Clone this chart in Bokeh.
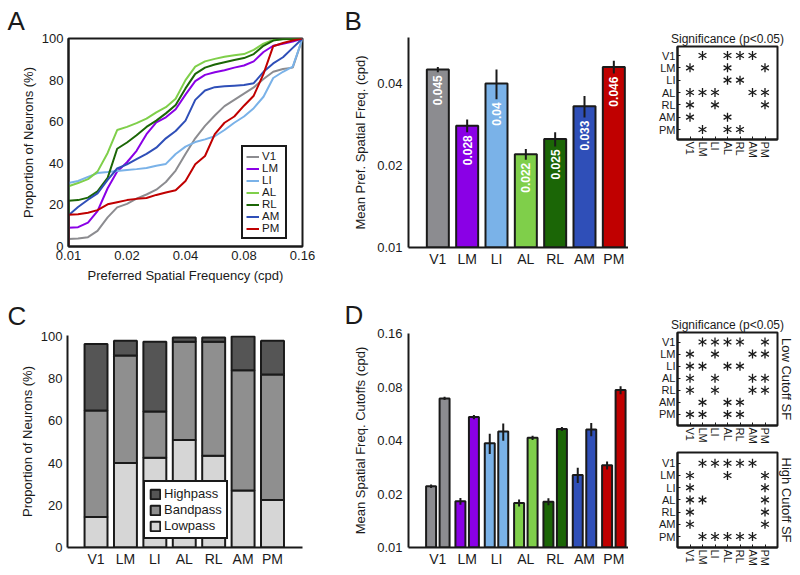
import math
from bokeh.plotting import figure
from bokeh.layouts import row, column
from bokeh.models import (Range1d, FixedTicker, PrintfTickFormatter, Legend,
                          LegendItem, Title, ColumnDataSource)
from bokeh.core.properties import value
from bokeh.embed import file_html
from bokeh.resources import INLINE

FONT = "Liberation Sans"
INK = "#1a1a1a"

AREAS = ["V1", "LM", "LI", "AL", "RL", "AM", "PM"]
AREA_COLORS = ["#8c8c90", "#8a00e6", "#7ab2e8", "#7fcf4a", "#1b6606", "#2f4fb8", "#c00000"]
AREA_POS = [1, 2, 3, 4, 5, 6, 7]

# ---------------- Panel A: cumulative distributions ----------------
SF_CPD = [0.0100, 0.0112, 0.0126, 0.0141, 0.0159, 0.0178, 0.0200, 0.0224, 0.0252,
          0.0283, 0.0317, 0.0356, 0.0400, 0.0449, 0.0504, 0.0566, 0.0635, 0.0713,
          0.0800, 0.0898, 0.1008, 0.1131, 0.1270, 0.1425, 0.1600]
CDF_V1 = [3.6, 3.8, 4.5, 7.5, 14, 18.8, 20.5, 23, 25, 27.3, 31, 36.5, 44.5, 52, 58, 63,
          67.5, 70.5, 73.5, 76.5, 80.5, 84, 85.3, 86, 100]
CDF_LM = [9, 9.3, 11.5, 17, 28, 36, 40.5, 46, 54, 59.7, 62.1, 66, 73, 79.5, 82.5, 83.8,
          84.7, 86, 87, 89, 93.5, 96.5, 97.5, 98.5, 100]
CDF_LI = [30.5, 31.5, 33.5, 35.3, 35.8, 36.3, 36.8, 37.2, 37.7, 38.8, 39.7, 44.5, 48,
          50.2, 51.5, 53, 56, 59.5, 62.5, 66.5, 72, 81, 84, 86.5, 100]
CDF_AL = [29, 30.5, 32.4, 36, 45, 56, 57.5, 59.3, 61.5, 64.5, 67, 71, 80, 86.5, 89, 90.2,
          91.2, 91.9, 92.5, 94.5, 97.5, 99.3, 99.6, 99.8, 100]
CDF_RL = [22, 22.3, 23.5, 26.5, 33, 47, 50, 53.5, 57.5, 60.5, 64, 68, 76, 83, 86, 87.5,
          88.6, 89.7, 90.6, 92.5, 96.5, 99, 99.7, 99.8, 100]
CDF_AM = [15, 19, 22.5, 25.5, 32, 37.5, 39.5, 42, 44.5, 47.5, 52, 55.5, 60.5, 70.5, 75,
          76.6, 77, 77.3, 77.6, 78.5, 84, 88, 91, 95.5, 100]
CDF_PM = [15.3, 15.5, 16.2, 17.5, 20.3, 21.3, 22.3, 22.9, 23.3, 24.8, 26, 27, 31.5, 39.5,
          43.5, 54, 59.5, 62.5, 67.7, 72.5, 83, 96.3, 97.8, 99, 100]
A_XTICKS = [0.01, 0.02, 0.04, 0.08, 0.16]
A_YTICKS = [0, 20, 40, 60, 80, 100]

# ---------------- Panel B: mean preferred SF ----------------
B_MEAN = [0.045, 0.028, 0.040, 0.022, 0.025, 0.033, 0.046]
B_SEM = [0.001, 0.0015, 0.005, 0.001, 0.0015, 0.003, 0.0025]
B_YTICKS = [0.01, 0.02, 0.04]
SIG_B = ["0101110",
         "1001001",
         "0001100",
         "1110011",
         "1010001",
         "1001000",
         "0101100"]

# ---------------- Panel C: filter classes ----------------
C_CLASSES = ["Lowpass", "Bandpass", "Highpass"]
C_LOWPASS = [14.5, 40, 42.5, 51, 43.5, 27, 22.5]
C_BANDPASS = [50.5, 51, 22, 46.5, 54, 57, 59.5]
C_HIGHPASS = [31.5, 7, 33, 2, 2, 16, 16]
C_COLORS = ["#d6d6d6", "#8f8f8f", "#555555"]
C_YTICKS = [0, 20, 40, 60, 80, 100]

# ---------------- Panel D: cutoffs ----------------
D_LOW = [0.0221, 0.0182, 0.0386, 0.0178, 0.0181, 0.0256, 0.029]
D_LOW_SEM = [0.0005, 0.0008, 0.005, 0.0008, 0.0008, 0.0025, 0.0015]
D_HIGH = [0.069, 0.0542, 0.0449, 0.0414, 0.0464, 0.0462, 0.0769]
D_HIGH_SEM = [0.0015, 0.0015, 0.005, 0.0012, 0.0012, 0.004, 0.004]
D_YTICKS = [0.01, 0.02, 0.04, 0.08, 0.16]
SIG_D_LOW = ["0111101",
             "1010011",
             "1101100",
             "1010011",
             "1010011",
             "0101100",
             "1101100"]
SIG_D_HIGH = ["0111110",
              "1001001",
              "1000001",
              "1100001",
              "1000001",
              "1000001",
              "0111110"]


def base_fig(w, h, l, r, t, b, **kw):
    p = figure(width=w, height=h, min_border_left=l, min_border_right=r,
               min_border_top=t, min_border_bottom=b, output_backend="svg",
               toolbar_location=None, **kw)
    p.background_fill_color = "white"
    p.border_fill_color = "white"
    p.outline_line_color = None
    p.grid.visible = False
    return p


def style_axes(p, xsize="13px", ysize="13px"):
    for ax, size in [(a, xsize) for a in p.xaxis] + [(a, ysize) for a in p.yaxis]:
        ax.axis_line_width = 2
        ax.axis_line_color = INK
        ax.major_tick_line_color = None
        ax.minor_tick_line_color = None
        ax.major_tick_out = 0
        ax.major_tick_in = 0
        ax.minor_tick_out = 0
        ax.minor_tick_in = 0
        ax.major_label_text_font = FONT
        ax.major_label_text_font_size = size
        ax.major_label_text_color = INK
        ax.major_label_standoff = 5
        ax.axis_label_text_font = FONT
        ax.axis_label_text_font_style = "normal"
        ax.axis_label_text_font_size = "13px"
        ax.axis_label_text_color = INK


def letter(p, txt, offset, standoff):
    p.title.text = txt
    p.title.align = "left"
    p.title.offset = offset
    p.title.standoff = standoff
    p.title.text_font = FONT
    p.title.text_font_style = "normal"
    p.title.text_font_size = "26px"
    p.title.text_color = INK


def area_axis(ax):
    ax.ticker = FixedTicker(ticks=AREA_POS)
    ax.major_label_overrides = {pos: a for pos, a in zip(AREA_POS, AREAS)}


# ---------- A ----------
pA = base_fig(330, 285, 68, 28, 38, 38, x_axis_type="log",
              x_range=Range1d(0.01, 0.16), y_range=Range1d(0, 100))
pA.outline_line_color = INK
pA.outline_line_width = 2
cdfs = [CDF_V1, CDF_LM, CDF_LI, CDF_AL, CDF_RL, CDF_AM, CDF_PM]
rendsA = []
for cdf, col in zip(cdfs, AREA_COLORS):
    r = pA.line([SF_CPD[0]] + SF_CPD, [0] + cdf, line_color=col, line_width=2)
    rendsA.append(r)
style_axes(pA)
pA.xaxis.ticker = FixedTicker(ticks=A_XTICKS)
pA.xaxis.formatter = PrintfTickFormatter(format="%.2f")
pA.xaxis.major_label_standoff = 4
pA.yaxis.ticker = FixedTicker(ticks=A_YTICKS)
pA.xaxis.axis_label = "Preferred Spatial Frequency (cpd)"
pA.yaxis.axis_label = "Proportion of Neurons (%)"
pA.xaxis.axis_label_standoff = 5
pA.yaxis.axis_label_standoff = 3
legA = Legend(items=[LegendItem(label=a, renderers=[r]) for a, r in zip(AREAS, rendsA)],
              location=(173, 7), glyph_width=13, glyph_height=11, label_height=11,
              label_text_font=FONT, label_text_font_size="11.5px", label_text_color=INK,
              label_text_line_height=1.0,
              spacing=0, padding=3, margin=0, label_standoff=3,
              border_line_color=INK, border_line_width=2, border_line_alpha=1,
              background_fill_alpha=1)
pA.add_layout(legA)
letter(pA, "A", -61, 5)

# ---------- B ----------
pB = base_fig(298, 285, 78, 0, 37, 38, y_axis_type="log",
              x_range=Range1d(0, 7.5), y_range=Range1d(0.01, 0.059))
pB.vbar(x=AREA_POS, top=B_MEAN, bottom=0.01, width=0.75, fill_color=AREA_COLORS,
        line_color=INK, line_width=2)
pB.text(x=AREA_POS, y=[(m - s) / 1.026 for m, s in zip(B_MEAN, B_SEM)],
        text=[f"{m:g}" for m in B_MEAN],
        angle=math.pi / 2, text_align="right", text_baseline="middle",
        text_color="white", text_font=value(FONT), text_font_style="bold",
        text_font_size="12px")
pB.segment(x0=AREA_POS, y0=[m - s for m, s in zip(B_MEAN, B_SEM)],
           x1=AREA_POS, y1=[m + s for m, s in zip(B_MEAN, B_SEM)],
           line_color=INK, line_width=2)
style_axes(pB, xsize="14px")
area_axis(pB.xaxis[0])
pB.xaxis.major_label_standoff = 3
pB.yaxis.ticker = FixedTicker(ticks=B_YTICKS)
pB.yaxis.formatter = PrintfTickFormatter(format="%.2f")
pB.yaxis.major_label_standoff = 6
pB.yaxis.axis_label = "Mean Pref. Spatial Freq. (cpd)"
pB.yaxis.axis_label_standoff = 6
letter(pB, "B", -64, 4)


# ---------- significance matrices ----------
def sig_fig(mat, w, h, l, r, t, b, yr, title=None, right_title=None):
    kw = {}
    if title:
        kw["title"] = title
    p = base_fig(w, h, l, r, t, b, x_range=Range1d(0, 8), y_range=Range1d(*yr), **kw)
    p.outline_line_color = INK
    p.outline_line_width = 2
    xs, ys = [], []
    for ri, rowstr in enumerate(mat):
        for ci, ch in enumerate(rowstr):
            if ch == "1":
                xs.append(AREA_POS[ci])
                ys.append(AREA_POS[ri])
    for ang in (90, 30, -30):
        p.scatter(xs, ys, marker="dash", size=9, angle=math.radians(ang),
                  line_color=INK, line_width=1.3)
    style_axes(p, xsize="11px", ysize="11px")
    area_axis(p.xaxis[0])
    area_axis(p.yaxis[0])
    for ax in list(p.xaxis) + list(p.yaxis):
        ax.major_tick_line_color = INK
        ax.major_tick_in = 3
        ax.major_tick_out = 0
        ax.major_label_standoff = 2
    p.xaxis.major_label_orientation = "vertical"
    if title:
        p.title.align = "center"
        p.title.text_font = FONT
        p.title.text_font_style = "normal"
        p.title.text_font_size = "12px"
        p.title.text_color = INK
        p.title.standoff = 2
    if right_title:
        p.add_layout(Title(text=right_title, align="center", text_font=FONT,
                           text_font_style="normal", text_font_size="13px",
                           text_color=INK, standoff=2), "right")
    return p


sB = sig_fig(SIG_B, 168, 285, 49, 19, 46, 146, (7.81, 0.27), title="Significance (p<0.05)")

# ---------- C ----------
pC = base_fig(330, 287, 67, 28, 50, 25, x_range=Range1d(0.03, 8.02), y_range=Range1d(0, 100.5))
srcC = ColumnDataSource(dict(x=AREA_POS, Lowpass=C_LOWPASS, Bandpass=C_BANDPASS,
                             Highpass=C_HIGHPASS))
rsC = pC.vbar_stack(C_CLASSES, x="x", width=0.78, fill_color=C_COLORS, line_color=INK,
                    line_width=2, source=srcC)
style_axes(pC, xsize="14px")
area_axis(pC.xaxis[0])
pC.xaxis.major_label_standoff = 3
pC.yaxis.ticker = FixedTicker(ticks=C_YTICKS)
pC.yaxis.axis_label = "Proportion of Neurons (%)"
pC.yaxis.axis_label_standoff = 3
legC = Legend(items=[LegendItem(label=C_CLASSES[i], renderers=[rsC[i]]) for i in (2, 1, 0)],
              location=(76, 8), glyph_width=12, glyph_height=12, label_height=15,
              label_text_font=FONT, label_text_font_size="13px", label_text_color=INK,
              spacing=1, padding=4, margin=0, label_standoff=3,
              border_line_color=INK, border_line_width=2, border_line_alpha=1,
              background_fill_alpha=1)
pC.add_layout(legC)
letter(pC, "C", -60, 9)

# ---------- D ----------
pD = base_fig(298, 287, 78, 0, 48, 25, y_axis_type="log",
              x_range=Range1d(0, 7.5), y_range=Range1d(0.01, 0.16))
xl = [x - 0.23 for x in AREA_POS]
xh = [x + 0.23 for x in AREA_POS]
pD.vbar(x=xl, top=D_LOW, bottom=0.01, width=0.34, fill_color=AREA_COLORS,
        line_color=INK, line_width=2)
pD.vbar(x=xh, top=D_HIGH, bottom=0.01, width=0.34, fill_color=AREA_COLORS,
        line_color=INK, line_width=2)
pD.segment(x0=xl, y0=[m - s for m, s in zip(D_LOW, D_LOW_SEM)],
           x1=xl, y1=[m + s for m, s in zip(D_LOW, D_LOW_SEM)], line_color=INK, line_width=2)
pD.segment(x0=xh, y0=[m - s for m, s in zip(D_HIGH, D_HIGH_SEM)],
           x1=xh, y1=[m + s for m, s in zip(D_HIGH, D_HIGH_SEM)], line_color=INK, line_width=2)
style_axes(pD, xsize="14px")
area_axis(pD.xaxis[0])
pD.xaxis.major_label_standoff = 3
pD.yaxis.ticker = FixedTicker(ticks=D_YTICKS)
pD.yaxis.formatter = PrintfTickFormatter(format="%.2f")
pD.yaxis.major_label_standoff = 6
pD.yaxis.axis_label = "Mean Spatial Freq. Cutoffs (cpd)"
pD.yaxis.axis_label_standoff = 6
letter(pD, "D", -64, 8)

sL = sig_fig(SIG_D_LOW, 168, 162, 49, 19, 47, 20, (7.92, 0.21),
             title="Significance (p<0.05)", right_title="Low Cutoff SF")
sH = sig_fig(SIG_D_HIGH, 168, 125, 49, 19, 5, 25, (7.9, 0.12),
             right_title="High Cutoff SF")

# wrap each plot so that Bokeh does not align frame borders across a row
layout = column(
    row(column(pA), column(pB), column(sB)),
    row(column(pC), column(pD), column(column(sL), column(sH))),
)
open("out.html", "w").write(file_html(layout, INLINE))
